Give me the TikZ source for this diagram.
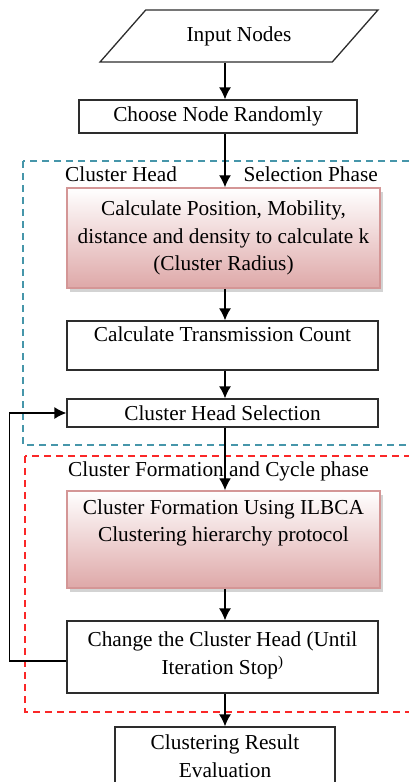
\documentclass[tikz,border=0pt]{standalone}
\usepackage{fontspec}
\setmainfont{Liberation Serif}
\usetikzlibrary{arrows.meta,shapes.geometric,shadows}
\definecolor{boxline}{RGB}{45,45,45}
\definecolor{pinkline}{RGB}{212,150,150}
\definecolor{pinkfill}{RGB}{222,168,168}
\definecolor{headdash}{RGB}{70,150,170}
\definecolor{formdash}{RGB}{250,40,40}
\begin{document}
\begin{tikzpicture}[x=1pt, y=-1pt, >={Latex[length=12pt,width=12pt]},
  every node/.style={font=\fontsize{21.3}{27.5}\selectfont, inner sep=0pt},
  box/.style={draw=boxline, line width=1.3pt, align=center},
  pinkbox/.style={draw=pinkline, line width=1.5pt, align=center, top color=white, bottom color=pinkfill,
    drop shadow={shadow xshift=3pt, shadow yshift=-4pt, opacity=.35, fill=gray}},
  flow/.style={->, line width=1.3pt}]

\useasboundingbox (0,0) rectangle (409,782);
\clip (0,0) rectangle (409,782);

% phases
\draw[headdash, dashed, line width=1.2pt, dash pattern=on 7pt off 5pt] (23,161) rectangle (430,445);
\draw[formdash, dashed, line width=1.2pt, dash pattern=on 7pt off 5pt] (25,456) rectangle (430,712);
\node[anchor=west] (headlbl) at (65,174) {Cluster Head};
\node[anchor=east] (sellbl) at (378,174) {Selection Phase};
\node (formlbl) at (218.5,471) {Cluster Formation and Cycle phase};

% steps
\node[trapezium, draw=boxline, line width=1.3pt, trapezium left angle=37, trapezium right angle=143,
  trapezium stretches=true, minimum width=278pt, minimum height=52pt] (input) at (239,36) {Input Nodes};
\node[box, minimum width=278pt, minimum height=33pt] (choose) at (218,116.5) {Choose Node Randomly};
\node[pinkbox, minimum width=313pt, minimum height=100pt] (calcpos) at (223.5,238)
  {Calculate Position, Mobility,\\ distance and density to calculate k\\ (Cluster Radius)};
\node[box, minimum width=311pt, minimum height=49pt] (trans) at (222.5,345.5)
  {Calculate Transmission Count\\[-4pt]\mbox{}};
\node[box, minimum width=311pt, minimum height=28pt] (chsel) at (222.5,413) {Cluster Head Selection};
\node[pinkbox, minimum width=313pt, minimum height=97pt] (form) at (223.5,539.5)
  {Cluster Formation Using ILBCA\\ Clustering hierarchy protocol\\[10pt]\mbox{}};
\node[box, minimum width=311pt, minimum height=72pt] (change) at (222.5,657)
  {Change the Cluster Head (Until\\ Iteration Stop\textsuperscript{)}\\[-20pt]\mbox{}};
\node[box, minimum width=220pt, minimum height=58pt] (result) at (225,756)
  {Clustering Result\\ Evaluation};

% connectors
\coordinate (ax) at (225,0);
\draw[flow] (input.south -| ax) -- (choose.north -| ax);
\draw[flow] (choose.south -| ax) -- (calcpos.north -| ax);
\draw[flow] (calcpos.south -| ax) -- (trans.north -| ax);
\draw[flow] (trans.south -| ax) -- (chsel.north -| ax);
\draw[flow] (chsel.south -| ax) -- (form.north -| ax);
\draw[flow] (form.south -| ax) -- (change.north -| ax);
\draw[flow] (change.south -| ax) -- (result.north -| ax);
\draw[flow] ([yshift=-4pt]change.west) -- ++(-57,0) |- (chsel.west);

\end{tikzpicture}
\end{document}
